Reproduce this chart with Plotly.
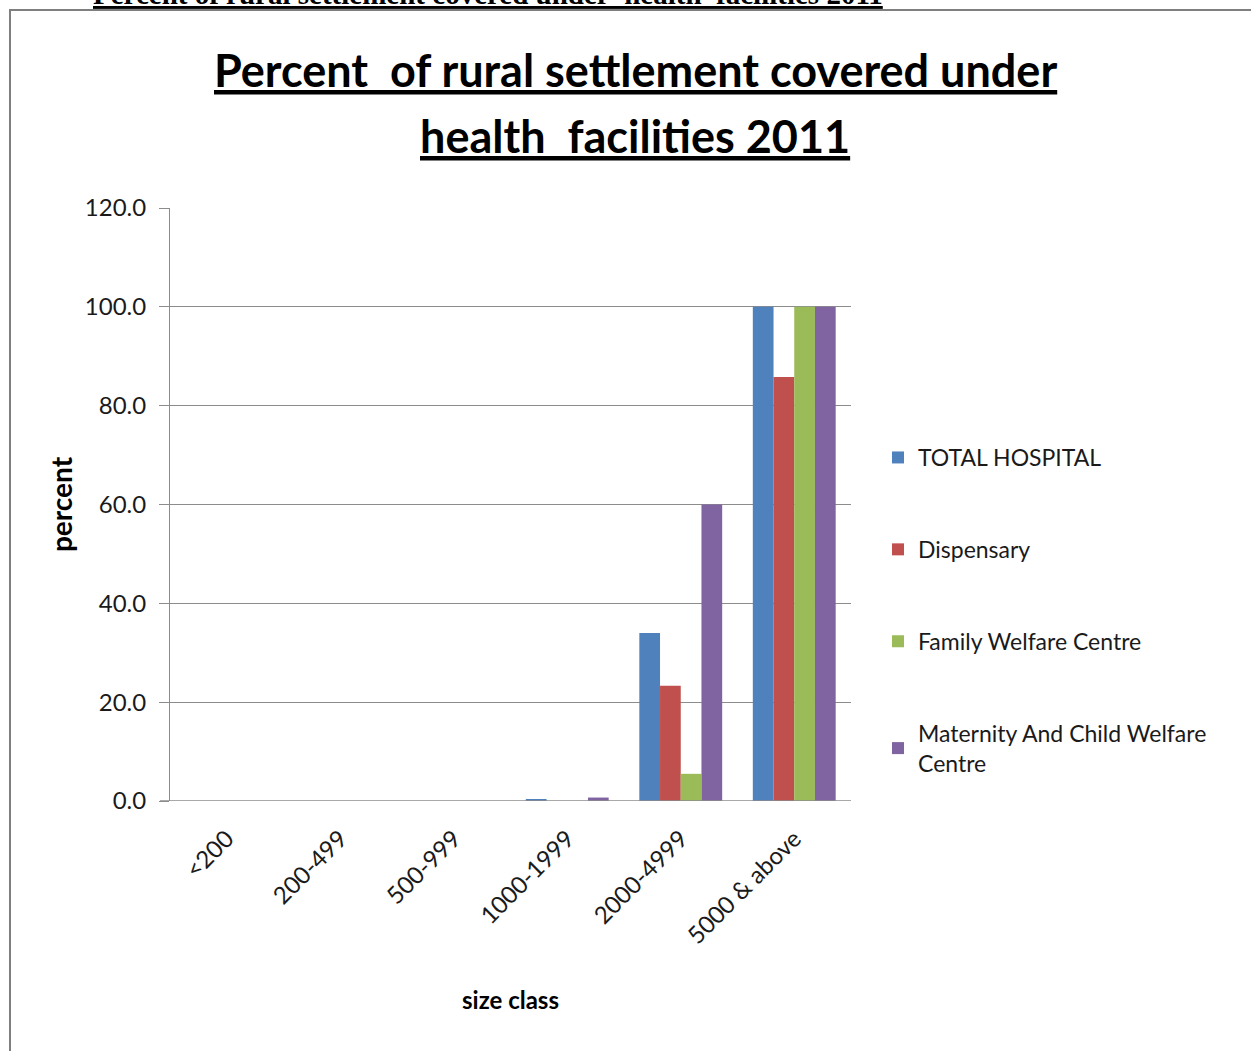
import plotly.graph_objects as go

# Size classes of rural settlements (population)
size_classes = ["<200", "200-499", "500-999", "1000-1999", "2000-4999", "5000 & above"]

# Percent of settlements covered, by facility type
total_hospital = [0.0, 0.0, 0.0, 0.3, 34.0, 100.0]
dispensary = [0.0, 0.0, 0.0, 0.0, 23.3, 85.8]
family_welfare = [0.0, 0.0, 0.0, 0.0, 5.5, 100.0]
maternity_child = [0.0, 0.0, 0.0, 0.7, 60.0, 100.0]

series_names = ["TOTAL HOSPITAL", "Dispensary", "Family Welfare Centre",
                "Maternity And Child Welfare<br>Centre"]
series_values = [total_hospital, dispensary, family_welfare, maternity_child]
series_colors = ["#4F81BD", "#C0504D", "#9BBB59", "#8064A2"]

y_ticks = [0, 20, 40, 60, 80, 100, 120]

title_lines = ["Percent&nbsp; of rural settlement covered under",
               "health&nbsp; facilities 2011"]
caption = "Percent of rural settlement covered under&nbsp; health&nbsp; facilities 2011"

W, H = 1251, 1051
L, R, T, B = 170, 851, 208, 801  # plot area in pixels

SANS = "Lato, 'Open Sans', sans-serif"
GRID = "#8c8c8c"
TEXT = "#1a1a1a"


def px_x(p):
    return (p - L) / (R - L)


def px_y(p):
    return (B - p) / (B - T)


fig = go.Figure()
for i, (name, vals, col) in enumerate(zip(series_names, series_values, series_colors)):
    fig.add_trace(go.Bar(
        x=size_classes, y=vals, name=name,
        marker=dict(color=col, line=dict(width=0)),
        legendgroup=f"g{i}",
    ))

fig.update_layout(
    width=W, height=H,
    margin=dict(l=L, r=W - R, t=T, b=H - B, autoexpand=False),
    paper_bgcolor="white", plot_bgcolor="white",
    barmode="group", bargap=0.27, bargroupgap=0,
    font=dict(family=SANS, color=TEXT),
    showlegend=True,
    legend=dict(
        x=px_x(878), y=px_y(436), xanchor="left", yanchor="top",
        font=dict(family=SANS, size=23, color=TEXT),
        tracegroupgap=59, itemwidth=30, bgcolor="rgba(0,0,0,0)",
        traceorder="grouped",
    ),
    xaxis=dict(
        showgrid=False, showline=False, ticks="",
        tickangle=-45, ticklabelstandoff=18,
        tickfont=dict(family=SANS, size=24, color=TEXT),
        title=dict(text="<b>size class</b>", font=dict(family=SANS, size=24, color="#000000"),
                   standoff=44),
    ),
    yaxis=dict(
        range=[0, 120], tickvals=y_ticks, tickformat=".1f",
        showgrid=True, gridcolor=GRID, gridwidth=1,
        showline=True, linecolor=GRID, linewidth=1,
        ticks="outside", ticklen=10, tickcolor=GRID, tickwidth=1,
        ticklabelstandoff=8,
        tickfont=dict(family=SANS, size=24, color=TEXT),
        zeroline=False,
        title=dict(text="<b>percent</b>", font=dict(family=SANS, size=28, color="#000000"),
                   standoff=4),
    ),
)

# chart title, two centred underlined lines
for line, y_mid in zip(title_lines, [70, 136]):
    fig.add_annotation(
        xref="paper", yref="paper", x=px_x(635), y=px_y(y_mid),
        xanchor="center", yanchor="middle", showarrow=False,
        text=f"<b><u>{line}</u></b>",
        font=dict(family=SANS, size=45, color="#000000"),
    )

# outer frame of the chart area
fig.add_shape(type="rect", xref="paper", yref="paper",
              x0=px_x(10), x1=px_x(W + 20), y0=px_y(H + 20), y1=px_y(10),
              line=dict(color="#7f7f7f", width=2), fillcolor="rgba(0,0,0,0)", layer="below")

# x axis base line, extended slightly left of the value axis
fig.add_shape(type="line", xref="paper", yref="y",
              x0=px_x(160), x1=1, y0=0, y1=0,
              line=dict(color=GRID, width=1.5))

# document caption running off the top edge
fig.add_annotation(
    xref="paper", yref="paper", x=px_x(488), y=px_y(12),
    xanchor="center", yanchor="bottom", showarrow=False,
    text=f"<b><u>{caption}</u></b>",
    font=dict(family="Liberation Serif, Times New Roman, serif", size=29, color="#000000"),
)

fig.write_html("out.html")
